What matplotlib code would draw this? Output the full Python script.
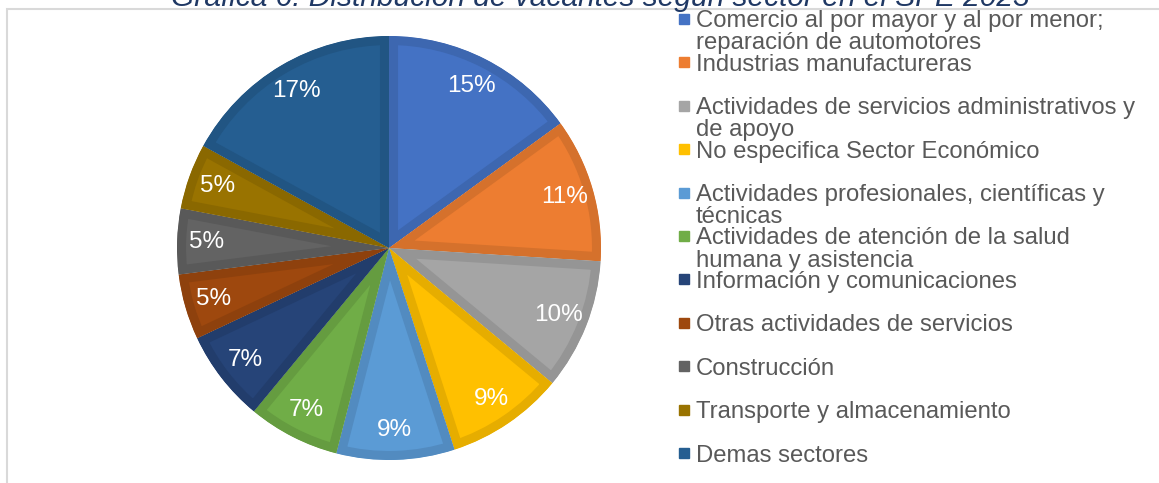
import matplotlib.pyplot as plt
from matplotlib.patches import Rectangle
from matplotlib.colors import to_rgb

sectores = [
    "Comercio al por mayor y al por menor;\nreparación de automotores",
    "Industrias manufactureras",
    "Actividades de servicios administrativos y\nde apoyo",
    "No especifica Sector Económico",
    "Actividades profesionales, científicas y\ntécnicas",
    "Actividades de atención de la salud\nhumana y asistencia",
    "Información y comunicaciones",
    "Otras actividades de servicios",
    "Construcción",
    "Transporte y almacenamiento",
    "Demas sectores",
]
porcentajes = [15, 11, 10, 9, 9, 7, 7, 5, 5, 5, 17]
colores = ["#4472C4", "#ED7D31", "#A5A5A5", "#FFC000", "#5B9BD5", "#70AD47",
           "#264478", "#9E480E", "#636363", "#997300", "#255E91"]
titulo = "Gráfica 6. Distribución de vacantes según sector en el SPE 2023"

plt.rcParams['font.family'] = ['Liberation Sans', 'DejaVu Sans']

W, H = 1159, 483
fig = plt.figure(figsize=(W / 100, H / 100), dpi=100)

def px(x, y):
    # pixel position (from top-left) to figure fraction
    return x / W, 1 - y / H

# chart frame
fig.patches.append(Rectangle(px(7, 500), (W + 20) / W, 491 / H, transform=fig.transFigure,
                             fill=False, edgecolor="#D9D9D9", linewidth=1.5))

fig.text(*px(600, 6), titulo, ha="center", va="baseline", fontsize=21.5,
         style="italic", color="#1F3864")

# pie
cx, cy, r = 389, 248, 212
ax = fig.add_axes([(cx - r) / W, (H - cy - r) / H, 2 * r / W, 2 * r / H])
darker = [tuple(c * 0.9 for c in to_rgb(col)) for col in colores]
wedges, texts, autotexts = ax.pie(
    porcentajes, colors=colores, startangle=90, counterclock=False,
    autopct=lambda p: "%d%%" % round(p), pctdistance=0.86,
    textprops=dict(color="white", fontsize=17.5),
    wedgeprops=dict(linewidth=13),
)
for w, ec in zip(wedges, darker):
    w.set_edgecolor(ec)
    w.set_clip_path(w)
    w.set_clip_on(True)
ax.set_xlim(-1, 1)
ax.set_ylim(-1, 1)
ax.set_aspect("equal")
ax.axis("off")

# legend
y0, step = 19, 43.4
for i, (lab, col) in enumerate(zip(sectores, colores)):
    y = y0 + i * step
    fig.patches.append(Rectangle(px(679, y + 5), 10 / W, 10 / H,
                                 transform=fig.transFigure, color=col))
    for j, line in enumerate(lab.split("\n")):
        fig.text(*px(696, y + j * 22), line, ha="left", va="center_baseline",
                 fontsize=17.2, color="#595959")

fig.savefig("out.png", dpi=100)
